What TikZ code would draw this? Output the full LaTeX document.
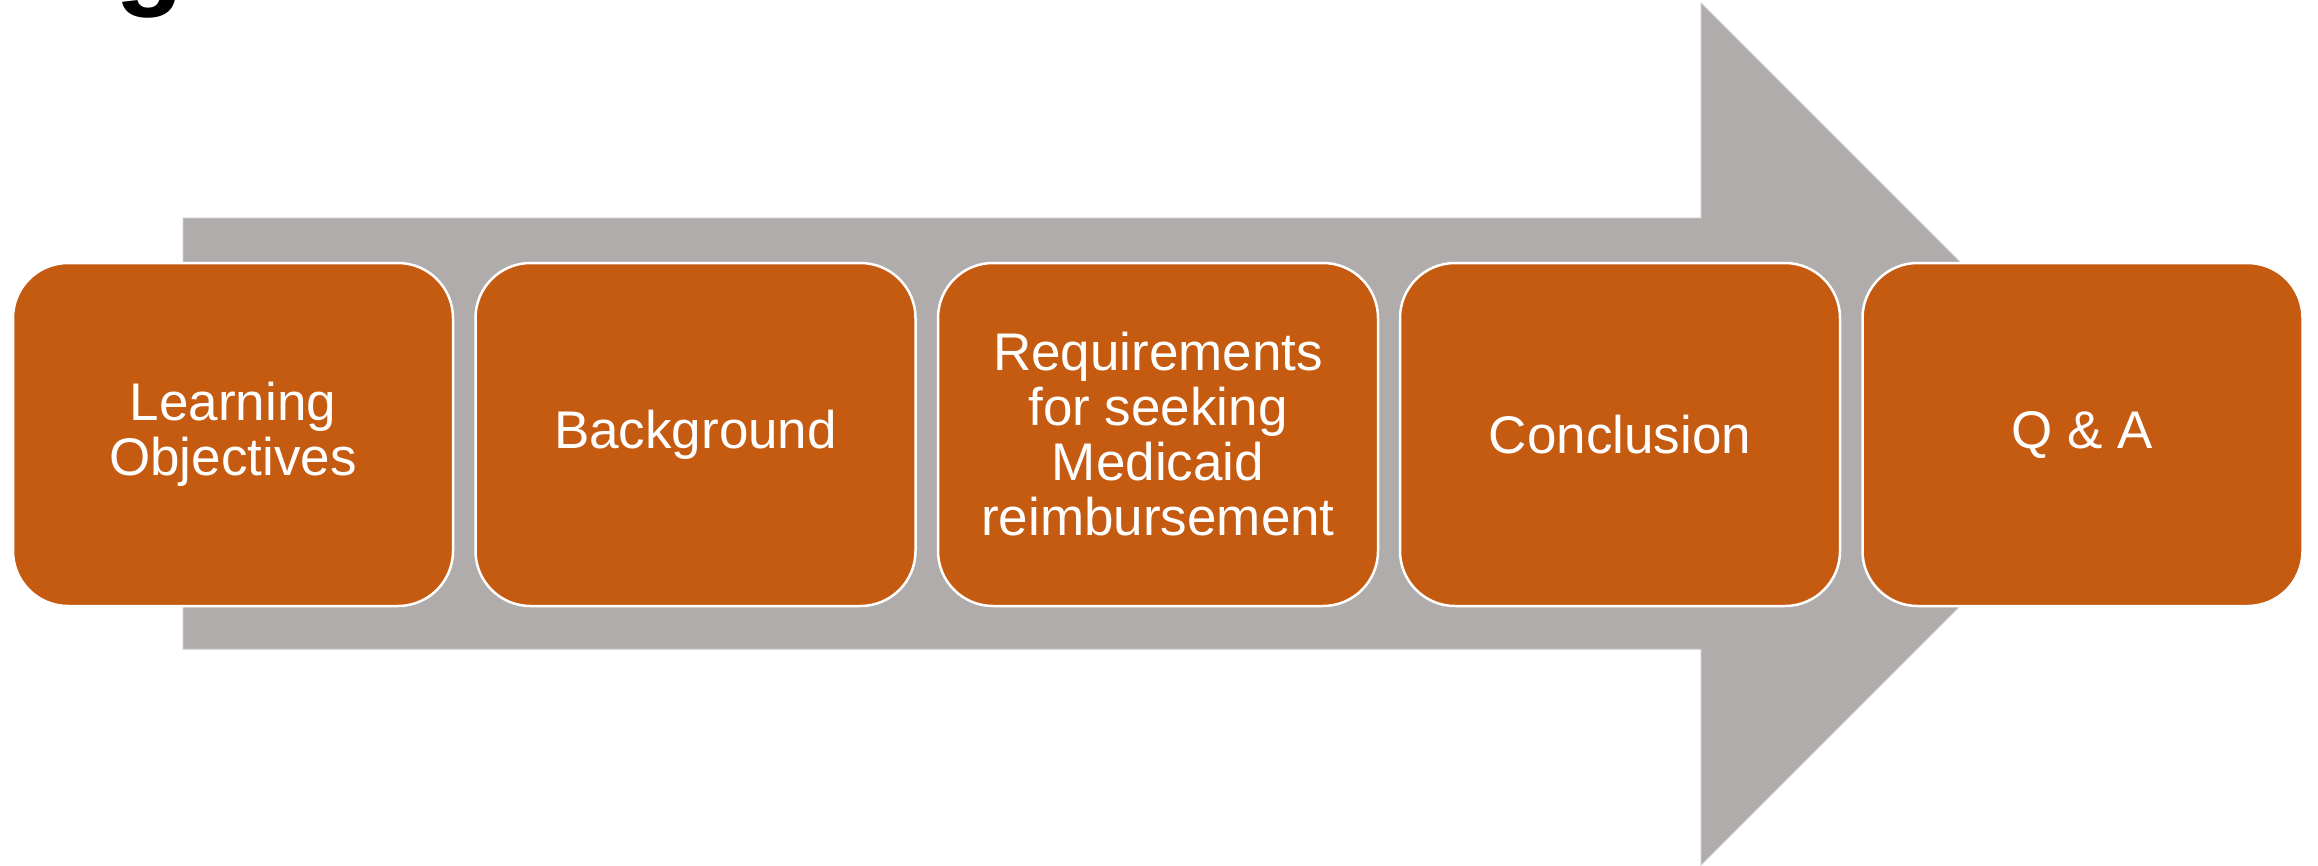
\documentclass[tikz,border=0pt]{standalone}
\usepackage{fontspec}
\setmainfont{Liberation Sans}
\definecolor{boxorange}{HTML}{C55A11}
\definecolor{arrowgrey}{HTML}{AFACAB}
\definecolor{arrowedge}{HTML}{C9C7C6}
\begin{document}
\begin{tikzpicture}[x=1pt,y=-1pt,
  stagebox/.style={draw=white, line width=2.5pt, fill=boxorange, rounded corners=55pt,
    minimum width=440pt, minimum height=343pt, inner sep=0pt, text=white,
    align=center, font=\fontsize{53}{55}\selectfont},
  bigarrow/.style={fill=arrowgrey, draw=arrowedge, line width=1pt}]
\useasboundingbox (0,0) rectangle (2318,865);
\fill[white] (0,0) rectangle (2318,865);
% partial title glyph at top edge
\node[anchor=base, inner sep=0pt, font=\fontsize{112}{112}\bfseries\selectfont] (title) at (150,-6) {g};
% background arrow
\draw[bigarrow] (183,218) -- (1701,218) -- (1701,3) -- (2132,434) -- (1701,865) -- (1701,649) -- (183,649) -- cycle;
% stage boxes
\node[stagebox] (s1) at (233,434.5) {Learning\\Objectives};
\node[stagebox] (s2) at (695.5,434.5) {Background};
\node[stagebox] (s3) at (1158,434.5) {Requirements\\for seeking\\Medicaid\\reimbursement};
\node[stagebox] (s4) at (1620,434.5) {Conclusion};
\node[stagebox] (s5) at (2082.5,434.5) {Q \& A};
\end{tikzpicture}
\end{document}
